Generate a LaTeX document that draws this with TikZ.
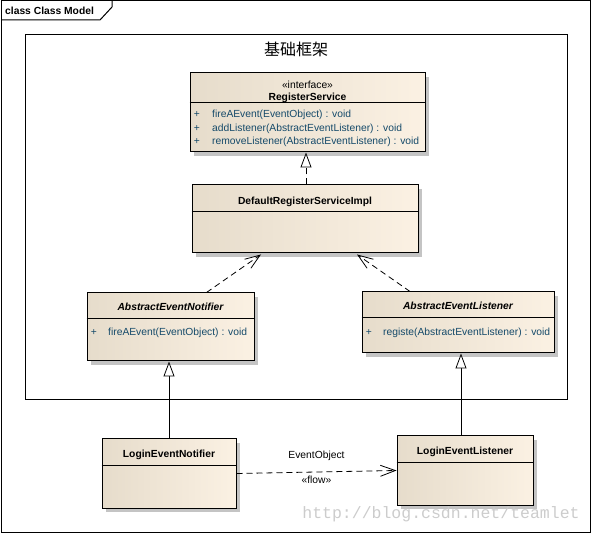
\documentclass[tikz,border=0pt]{standalone}
\usepackage{fontspec}
\setmainfont{Liberation Sans}
\newfontfamily\cjk{Noto Sans CJK SC}
\newfontfamily\wmfont{Liberation Mono}
\usetikzlibrary{calc}
\usetikzlibrary{arrows.meta}
\usetikzlibrary{shadows}
\definecolor{clsL}{HTML}{E6DCCB}
\definecolor{clsR}{HTML}{FBF1E3}
\definecolor{opcol}{HTML}{154A6A}
\definecolor{shadecol}{HTML}{C4C4C4}

\begin{document}
\begin{tikzpicture}[x=1pt,y=-1pt,
  txt/.style={inner sep=0pt,font=\fontsize{10.3}{12}\selectfont},
  ttl/.style={inner sep=0pt,font=\fontsize{10.3}{12}\selectfont\bfseries},
  ittl/.style={inner sep=0pt,font=\fontsize{10.3}{12}\selectfont\bfseries\itshape},
  op/.style={txt,text=opcol,anchor=west},
  frame/.style={line width=1pt},
  cls/.style={draw,line width=1pt,left color=clsL,right color=clsR,inner sep=0pt,
    drop shadow={shadow xshift=4pt,shadow yshift=-4pt,fill=shadecol,opacity=1}},
  realize/.style={line width=.8pt,dash pattern=on 6pt off 4pt,
    -{Triangle[fill=white,length=15pt,width=11pt]}},
  generalize/.style={line width=.8pt,-{Triangle[fill=white,length=15pt,width=11pt]}},
  dep/.style={line width=.8pt,dash pattern=on 6pt off 4pt,
    -{Straight Barb[length=15pt,width=11pt]}}]
\useasboundingbox (0,0) rectangle (592,534);

% frames
\draw[frame] (1,1) rectangle (590,532);
\draw[frame] (1,20) -- (100,20) -- (112,7) -- (112,1);
\node[ttl,anchor=west] (tab) at (5,11) {class Class Model};
\draw[frame] (25,35) rectangle (567,400);
\node[inner sep=0pt,font=\cjk\fontsize{16}{18}\selectfont] (pkg) at (296,49) {基础框架};

% interface
\node[cls,minimum width=235pt,minimum height=79pt] (rs) at (307.5,112.5) {};
\draw[line width=1pt] ($(rs.north west)+(0,30)$) -- ($(rs.north east)+(0,30)$);
\node[txt] (rs-st) at (307.5,85) {«interface»};
\node[ttl] (rs-nm) at (307.5,98) {RegisterService};
\foreach \y/\m [count=\i] in {115/{fireAEvent(EventObject) : void},
    128.5/{addListener(AbstractEventListener) : void},
    142/{removeListener(AbstractEventListener) : void}}
{
  \node[txt,text=opcol] (rs-p\i) at (197,\y) {+};
  \node[op] (rs-op\i) at (212,\y) {\m};
}

% implementation
\node[cls,minimum width=226pt,minimum height=68pt] (dflt) at (305,219) {};
\draw[line width=1pt] ($(dflt.north west)+(0,27)$) -- ($(dflt.north east)+(0,27)$);
\node[ttl] (dflt-nm) at (305,202) {DefaultRegisterServiceImpl};

% abstract classes
\node[cls,minimum width=167pt,minimum height=68pt] (absn) at (170.5,327) {};
\draw[line width=1pt] ($(absn.north west)+(0,26)$) -- ($(absn.north east)+(0,26)$);
\node[ittl] (absn-nm) at (170.5,307) {AbstractEventNotifier};
\node[txt,text=opcol] (absn-p) at (94,333) {+};
\node[op] (absn-op) at (108,333) {fireAEvent(EventObject) : void};

\node[cls,minimum width=192pt,minimum height=61pt] (absl) at (458,322.5) {};
\draw[line width=1pt] ($(absl.north west)+(0,26)$) -- ($(absl.north east)+(0,26)$);
\node[ittl] (absl-nm) at (458,306) {AbstractEventListener};
\node[txt,text=opcol] (absl-p) at (369,333) {+};
\node[op] (absl-op) at (383,333) {registe(AbstractEventListener) : void};

% login classes
\node[cls,minimum width=134pt,minimum height=69pt] (lgn) at (169,473.5) {};
\draw[line width=1pt] ($(lgn.north west)+(0,27)$) -- ($(lgn.north east)+(0,27)$);
\node[ttl] (lgn-nm) at (169,455) {LoginEventNotifier};

\node[cls,minimum width=136pt,minimum height=69pt] (lgl) at (465,470.5) {};
\draw[line width=1pt] ($(lgl.north west)+(0,27)$) -- ($(lgl.north east)+(0,27)$);
\node[ttl] (lgl-nm) at (465,452) {LoginEventListener};

% connectors
\coordinate (dflt-up) at ($(dflt.north)+(1,0)$);
\coordinate (absn-up) at ($(absn.north)+(36,0)$);
\coordinate (absl-up) at ($(absl.north)+(-48,0)$);
\coordinate (dflt-l) at ($(dflt.south)+(-44,1)$);
\coordinate (dflt-r) at ($(dflt.south)+(52,1)$);
\coordinate (lgl-up) at ($(lgl.north)+(-4,0)$);
\draw[realize] (dflt-up) -- (dflt-up |- rs.south);
\draw[dep] (absn-up) -- (dflt-l);
\draw[dep] (absl-up) -- (dflt-r);
\draw[generalize] (lgn.north) -- (lgn.north |- absn.south);
\draw[generalize] (lgl-up) -- (lgl-up |- absl.south);
\draw[dep] (lgn.east) -- (lgl.west)
  node[txt,midway,above=11pt] (flow-obj) {EventObject}
  node[txt,midway,below=4pt] (flow-st) {«flow»};

\node[inner sep=0pt,font=\wmfont\fontsize{16.5}{18}\selectfont,text=gray!40] (wm) at (441,514) {http://blog.csdn.net/teamlet};
\end{tikzpicture}
\end{document}
